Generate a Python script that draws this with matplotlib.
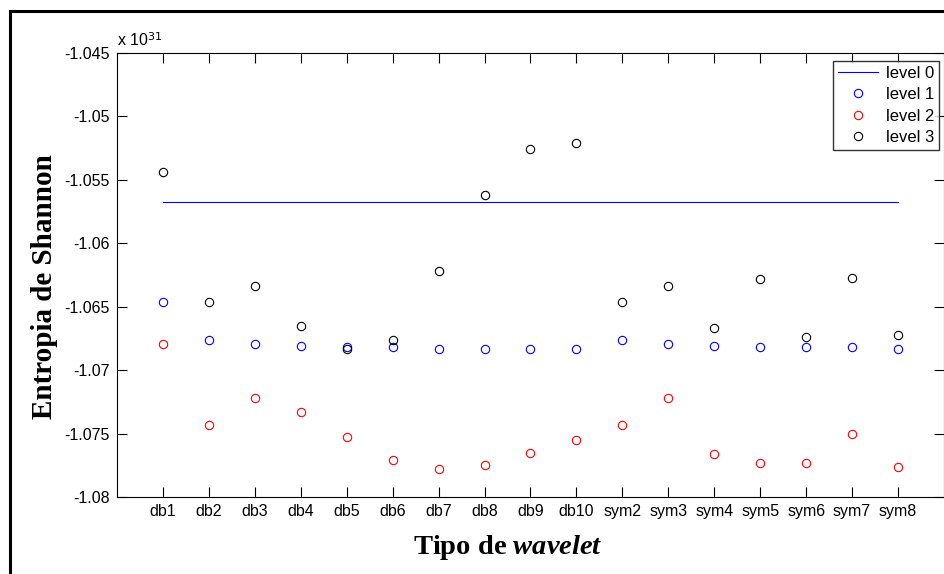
import matplotlib
matplotlib.use('Agg')
import matplotlib.pyplot as plt
from matplotlib.patches import Rectangle

# wavelet families on the x axis
wavelets = ['db1', 'db2', 'db3', 'db4', 'db5', 'db6', 'db7', 'db8', 'db9', 'db10',
            'sym2', 'sym3', 'sym4', 'sym5', 'sym6', 'sym7', 'sym8']

# Shannon entropy, in units of 1e31
level0 = -1.05672
level1 = [-1.0646, -1.0676, -1.0679, -1.0681, -1.0682, -1.0682, -1.0683, -1.0683, -1.0683,
          -1.0683, -1.0676, -1.0679, -1.0681, -1.0682, -1.0682, -1.0682, -1.0683]
level2 = [-1.0679, -1.0743, -1.0722, -1.0733, -1.0753, -1.0771, -1.0778, -1.0775, -1.0765,
          -1.0755, -1.0743, -1.0722, -1.0766, -1.0773, -1.0773, -1.0750, -1.0776]
level3 = [-1.0544, -1.0646, -1.0634, -1.0665, -1.0683, -1.0676, -1.0622, -1.0562, -1.0526,
          -1.0521, -1.0646, -1.0634, -1.0667, -1.0628, -1.0674, -1.0627, -1.0672]

yticks = [-1.045, -1.05, -1.055, -1.06, -1.065, -1.07, -1.075, -1.08]
ytick_labels = ['-1.045', '-1.05', '-1.055', '-1.06', '-1.065', '-1.07', '-1.075', '-1.08']

plt.rcParams['font.family'] = 'Liberation Sans'
plt.rcParams['mathtext.fontset'] = 'custom'
plt.rcParams['mathtext.rm'] = 'Liberation Serif:bold'
plt.rcParams['mathtext.it'] = 'Liberation Serif:italic:bold'

fig = plt.figure(figsize=(9.45, 5.74), dpi=100)
ax = fig.add_axes([117 / 945, 1 - 497 / 574, 827 / 945, 444 / 574])

x = list(range(1, len(wavelets) + 1))
ax.plot([x[0], x[-1]], [level0, level0], color='#0000ff', lw=0.8, label='level 0')
ax.plot(x, level1, 'o', mfc='none', mec='#0000ff', ms=6, mew=0.8, label='level 1')
ax.plot(x, level2, 'o', mfc='none', mec='#ff0000', ms=6, mew=0.8, label='level 2')
ax.plot(x, level3, 'o', mfc='none', mec='black', ms=6, mew=0.8, label='level 3')

ax.set_xlim(0, 18)
ax.set_ylim(-1.08, -1.045)
ax.set_xticks(x)
ax.set_xticklabels(wavelets, fontsize=11.5)
ax.set_yticks(yticks)
ax.set_yticklabels(ytick_labels, fontsize=11.5)
ax.tick_params(direction='in', length=7, width=0.8, top=True, right=True, pad=5)
for s in ax.spines.values():
    s.set_linewidth(0.8)

# exponent shown above the y axis, as in the original
ax.text(0, 1.01, 'x 10$^{\\mathsf{31}}$', transform=ax.transAxes, fontsize=11.5, va='bottom')

ax.set_ylabel('Entropia de Shannon', family='Liberation Serif', fontweight='bold',
              fontsize=21)
ax.yaxis.set_label_coords(-0.071, 0.475)
ax.set_xlabel('Tipo de $\\it{wavelet}$', family='Liberation Serif', fontweight='bold',
              fontsize=20.5)
ax.xaxis.set_label_coords(0.4728, -0.08)

leg = ax.legend(loc='upper right', bbox_to_anchor=(0.994, 0.982), borderaxespad=0,
                fancybox=False, edgecolor='black', fontsize=12, handlelength=2.4,
                labelspacing=0.38, borderpad=0.3, handletextpad=0.45)
leg.get_frame().set_linewidth(1.0)

# outer frame around the figure
fig.patches.append(Rectangle((10 / 945, -0.1), 1.2, 1 - 11 / 574 + 0.1, transform=fig.transFigure,
                             fill=False, edgecolor='black', lw=2.2))

fig.savefig('out.png', dpi=100)
